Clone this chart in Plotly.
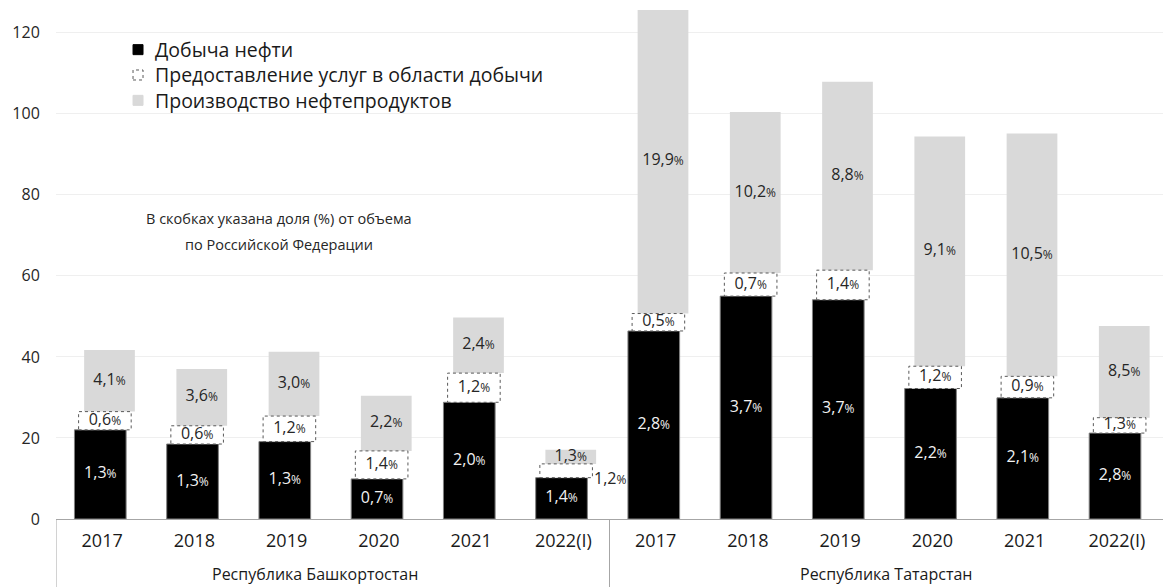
import plotly.graph_objects as go

# Regions and periods
regions = ["Республика Башкортостан", "Республика Татарстан"]
years = ["2017", "2018", "2019", "2020", "2021", "2022(I)"]

# Series values (same order: Bashkortostan 2017..2022(I), then Tatarstan 2017..2022(I))
oil_extraction = [22.0, 18.5, 19.1, 9.9, 28.8, 10.2, 46.4, 55.0, 54.1, 32.2, 29.9, 21.2]
extraction_services = [4.5, 4.5, 6.3, 6.9, 7.2, 3.4, 4.3, 5.7, 7.3, 5.5, 5.3, 3.8]
oil_products = [15.2, 14.0, 15.9, 13.6, 13.7, 3.5, 75.2, 39.7, 46.5, 56.7, 59.9, 22.6]

# Shares of the Russian Federation total, %
share_extraction = ["1,3", "1,3", "1,3", "0,7", "2,0", "1,4", "2,8", "3,7", "3,7", "2,2", "2,1", "2,8"]
share_services = ["0,6", "0,6", "1,2", "1,4", "1,2", "1,2", "0,5", "0,7", "1,4", "1,2", "0,9", "1,3"]
share_products = ["4,1", "3,6", "3,0", "2,2", "2,4", "1,3", "19,9", "10,2", "8,8", "9,1", "10,5", "8,5"]

# services labels that sit to the right of the bar (segment too thin)
services_label_outside = {5}

legend_names = [
    "Добыча нефти",
    "Предоставление услуг в области добычи",
    "Производство нефтепродуктов",
]
note_lines = ["В скобках указана доля (%) от объема", "по Российской Федерации"]

FONT = "Open Sans"
n = len(oil_extraction)
xs = list(range(n))
x_labels = years * len(regions)

base_services = oil_extraction
base_products = [a + b for a, b in zip(oil_extraction, extraction_services)]

# bar geometry (category units); each layer slightly shifted right
W_E, SH_E = 0.56, -0.02
W_S, SH_S = 0.57, 0.03
W_P, SH_P = 0.55, 0.08


def pct(s):
    return f"{s}<span style='font-size:12px'>%</span>"


fig = go.Figure()

fig.add_bar(
    x=xs, y=oil_extraction, base=[0] * n, width=W_E, offset=SH_E - W_E / 2,
    marker=dict(color="#000000", line=dict(color="#808080", width=1)),
    name=legend_names[0], hoverinfo="skip",
)
fig.add_bar(
    x=xs, y=extraction_services, base=base_services, width=W_S, offset=SH_S - W_S / 2,
    marker=dict(color="#ffffff", line=dict(width=0)),
    name=legend_names[1], hoverinfo="skip",
)
fig.add_bar(
    x=xs, y=oil_products, base=base_products, width=W_P, offset=SH_P - W_P / 2,
    marker=dict(color="#d9d9d9", line=dict(width=0)),
    name=legend_names[2], hoverinfo="skip",
)

# dotted outline around the services segments
for i in xs:
    fig.add_shape(
        type="rect", xref="x", yref="y",
        x0=i + SH_S - W_S / 2, x1=i + SH_S + W_S / 2,
        y0=base_services[i], y1=base_services[i] + extraction_services[i],
        line=dict(color="#595959", width=1, dash="dot"),
        fillcolor="rgba(0,0,0,0)", layer="above",
    )

# segment labels
LABEL_SIZE = 16
fig.add_scatter(
    x=[i + SH_E for i in xs], y=[v / 2 for v in oil_extraction],
    text=[pct(s) for s in share_extraction], mode="text",
    textfont=dict(family=FONT, size=LABEL_SIZE, color="#f2f2f2"), hoverinfo="skip",
)
inside = [i for i in xs if i not in services_label_outside]
fig.add_scatter(
    x=[i + SH_S for i in inside],
    y=[base_services[i] + extraction_services[i] / 2 for i in inside],
    text=[pct(share_services[i]) for i in inside], mode="text",
    textfont=dict(family=FONT, size=LABEL_SIZE, color="#262626"), hoverinfo="skip",
)
for i in services_label_outside:
    fig.add_annotation(
        x=i + SH_S + W_S / 2, y=base_services[i] + extraction_services[i] / 2,
        xref="x", yref="y", text=pct(share_services[i]), showarrow=False,
        xanchor="left", yanchor="middle", xshift=0, yshift=-7,
        font=dict(family=FONT, size=LABEL_SIZE, color="#262626"),
    )
fig.add_scatter(
    x=[i + SH_P for i in xs], y=[b + v / 2 for b, v in zip(base_products, oil_products)],
    text=[pct(s) for s in share_products], mode="text",
    textfont=dict(family=FONT, size=LABEL_SIZE, color="#262626"), hoverinfo="skip",
)

# region group labels and separators under the axis
group_size = len(years)
group_label_shift = [-18, 0]
for g, region in enumerate(regions):
    fig.add_annotation(
        x=g * group_size + (group_size - 1) / 2, y=-0.108, xref="x", yref="paper",
        text=region, showarrow=False, yanchor="middle", xshift=group_label_shift[g],
        font=dict(family=FONT, size=16, color="#1a1a1a"),
    )
for g in range(len(regions)):
    fig.add_shape(
        type="line", xref="x", yref="paper",
        x0=g * group_size - 0.5, x1=g * group_size - 0.5, y0=0, y1=-0.16,
        line=dict(color="#a6a6a6", width=1),
    )

# legend drawn by hand (dotted swatch for services)
LEG_SIZE = 19.5
leg_mid = 0.8723              # middle row
leg_step = LEG_SIZE * 1.3 / 509  # one text line, in paper units
swatches = [
    dict(fillcolor="#000000", line=dict(color="#000000", width=1)),
    dict(fillcolor="#ffffff", line=dict(color="#595959", width=1, dash="dot")),
    dict(fillcolor="#d9d9d9", line=dict(color="#d9d9d9", width=1)),
]
for k, sw in enumerate(swatches):
    fig.add_shape(
        type="rect", xref="paper", yref="paper",
        xsizemode="pixel", ysizemode="pixel",
        xanchor=0.0741, yanchor=leg_mid + (1 - k) * leg_step,
        x0=-5, x1=5, y0=-5, y1=5,
        **sw,
    )
fig.add_annotation(
    x=0.0876, y=leg_mid, xref="paper", yref="paper",
    text="<br>".join(legend_names), showarrow=False, align="left",
    xanchor="left", yanchor="middle",
    font=dict(family=FONT, size=LEG_SIZE, color="#1a1a1a"),
)

for line, y in zip(note_lines, [0.591, 0.540]):
    fig.add_annotation(
        x=0.201, y=y, xref="paper", yref="paper", text=line, showarrow=False,
        xanchor="center", yanchor="middle",
        font=dict(family=FONT, size=14.5, color="#262626"),
    )

fig.update_layout(
    width=1163, height=587,
    margin=dict(l=56, r=0, t=10, b=68),
    barmode="overlay", showlegend=False,
    plot_bgcolor="#ffffff", paper_bgcolor="#ffffff",
    font=dict(family=FONT, color="#262626"),
)
fig.update_xaxes(
    range=[-0.5, n - 0.5], tickmode="array", tickvals=xs, ticktext=x_labels,
    showgrid=False, zeroline=False, showline=True, linecolor="#a6a6a6", linewidth=1,
    ticks="", ticklabelstandoff=5, tickfont=dict(family=FONT, size=18, color="#1a1a1a"),
)
fig.update_yaxes(
    range=[0, 125.6], tickmode="array", tickvals=list(range(0, 121, 20)),
    showgrid=True, gridcolor="#efefef", gridwidth=1, zeroline=False, showline=False,
    ticks="outside", ticklen=12, tickcolor="rgba(0,0,0,0)",
    tickfont=dict(family=FONT, size=16, color="#262626"),
)

fig.write_html("out.html")
